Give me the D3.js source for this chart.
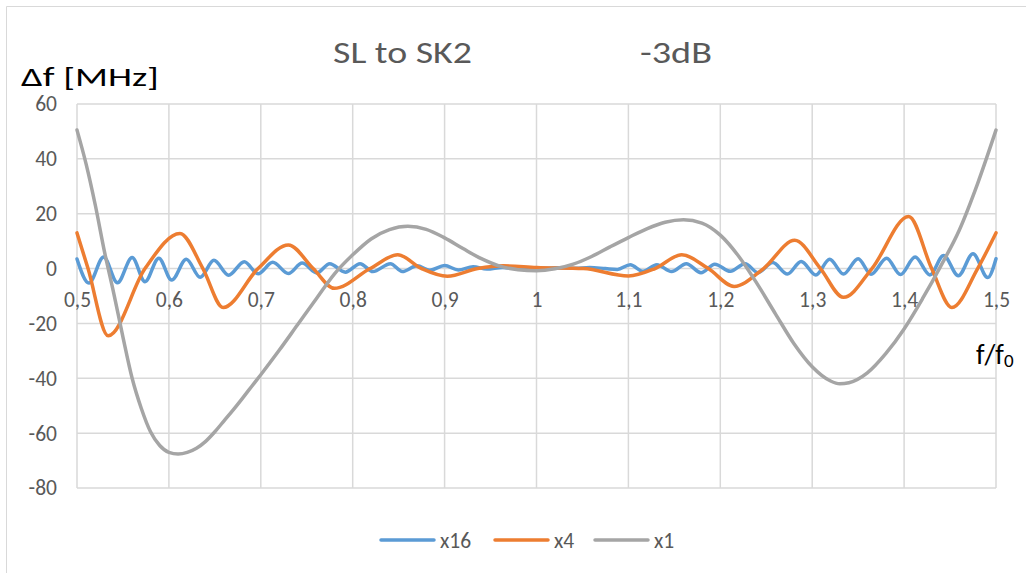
<!DOCTYPE html>
<html>
<head>
<meta charset="utf-8">
<script src="https://cdn.jsdelivr.net/npm/d3@7"></script>
<style>
  html, body { margin: 0; padding: 0; background: #fff; }
  svg { display: block; }
  text { font-family: Carlito, Lato, "Open Sans", sans-serif; }
</style>
</head>
<body>
<svg id="chart" width="1026" height="573"></svg>
<script>
// ---------------- data ----------------
const titleLeft = "SL to SK2";
const titleRight = "-3dB";
const yAxisTitle = "Δf [MHz]";
const seriesNames = ["x16", "x4", "x1"];
const seriesColors = ["#5b9bd5", "#ed7d31", "#a5a5a5"];
const xTickValues = [0.5, 0.6, 0.7, 0.8, 0.9, 1.0, 1.1, 1.2, 1.3, 1.4, 1.5];
const xTickLabels = ["0,5", "0,6", "0,7", "0,8", "0,9", "1", "1,1", "1,2", "1,3", "1,4", "1,5"];
const yTickValues = [-80, -60, -40, -20, 0, 20, 40, 60];

// x16 : [f/f0, Δf]
const x16 = [
  [0.500, 3.5], [0.513, -5.3], [0.529, 4.2], [0.544, -5.2], [0.560, 4.0], [0.574, -4.8],
  [0.589, 3.8], [0.603, -4.2], [0.619, 3.4], [0.634, -3.2], [0.649, 3.0], [0.665, -2.4],
  [0.682, 2.5], [0.697, -1.9], [0.713, 2.3], [0.730, -1.8], [0.745, 2.0], [0.761, -1.6],
  [0.775, 1.8], [0.792, -1.3], [0.808, 1.8], [0.822, -1.1], [0.841, 1.8], [0.854, -1.1],
  [0.870, 1.0], [0.884, -0.6], [0.900, 1.1], [0.915, -0.5], [0.931, 0.7], [0.946, -0.2],
  [0.963, 0.4], [0.978, 0.1], [0.993, 0.3], [1.009, 0.1], [1.026, 0.3], [1.042, 0.1],
  [1.058, 0.4], [1.075, 0.0], [1.088, -0.3], [1.102, 1.4], [1.116, -1.0], [1.131, 1.4],
  [1.147, -1.1], [1.163, 1.8], [1.179, -1.5], [1.194, 1.6], [1.211, -1.0], [1.227, 1.8],
  [1.241, -1.5], [1.257, 2.2], [1.273, -2.0], [1.288, 2.6], [1.304, -2.3], [1.319, 3.4],
  [1.334, -2.0], [1.350, 3.6], [1.364, -2.1], [1.381, 3.8], [1.396, -2.2], [1.412, 4.2],
  [1.428, -2.3], [1.443, 4.8], [1.459, -2.6], [1.475, 5.4], [1.491, -3.3], [1.500, 3.6]
];

// x4 : [f/f0, Δf]
const x4 = [
  [0.500, 13.0], [0.512, 0.0], [0.534, -24.5], [0.574, 0.0], [0.612, 12.8], [0.637, 0.0],
  [0.659, -14.2], [0.697, 0.0], [0.730, 8.6], [0.757, 0.0], [0.780, -7.2], [0.819, 0.0],
  [0.849, 5.0], [0.875, 0.0], [0.903, -2.8], [0.936, 0.0], [0.964, 1.0], [1.000, 0.4],
  [1.051, 0.0], [1.100, -2.7], [1.129, 0.0], [1.158, 5.0], [1.187, 0.0], [1.215, -6.5],
  [1.247, 0.0], [1.281, 10.3], [1.309, 0.0], [1.334, -10.5], [1.365, 0.0], [1.405, 19.0],
  [1.430, 0.0], [1.452, -14.2], [1.480, 0.0], [1.500, 13.0]
];

// x1 : [f/f0, Δf]
const x1 = [
  [0.50, 50.5], [0.51, 38], [0.52, 23], [0.53, 6], [0.54, -9], [0.55, -25], [0.56, -40],
  [0.57, -51], [0.58, -59.5], [0.59, -64.5], [0.60, -67], [0.61, -67.6], [0.62, -67],
  [0.63, -65.5], [0.64, -63], [0.65, -59.5], [0.66, -55.5], [0.67, -51.5], [0.68, -47.3],
  [0.69, -43], [0.70, -38.7], [0.72, -29.8], [0.74, -20.5], [0.76, -11.2], [0.78, -2],
  [0.80, 5], [0.82, 10.8], [0.84, 14.2], [0.86, 15.4], [0.88, 14.3], [0.90, 11.2],
  [0.92, 7.3], [0.94, 3.6], [0.96, 0.9], [0.98, -0.4], [1.00, -0.8], [1.02, -0.1],
  [1.04, 1.6], [1.06, 4.4], [1.08, 7.9], [1.10, 11.3], [1.12, 14.5], [1.14, 16.9],
  [1.16, 17.8], [1.18, 16.6], [1.20, 12.2], [1.22, 4.5], [1.24, -5.5], [1.26, -16.5],
  [1.28, -27.3], [1.30, -35.8], [1.32, -41], [1.33, -42], [1.34, -41.6], [1.36, -38],
  [1.38, -31], [1.40, -22], [1.42, -11], [1.44, 1], [1.46, 14], [1.48, 31], [1.50, 50.5]
];
const seriesData = [x16, x4, x1];

// ---------------- chart ----------------
const svg = d3.select("#chart");
const W = 1026, H = 573;
const plot = { left: 77, right: 996, top: 104, bottom: 488 };

const x = d3.scaleLinear().domain([0.5, 1.5]).range([plot.left, plot.right]);
const y = d3.scaleLinear().domain([-80, 60]).range([plot.bottom, plot.top]);

// widen a text horizontally (glyphs, not spacing) to a target width
function fitWidth(sel, targetW) {
  const n = sel.node();
  const L = n.getComputedTextLength();
  const x0 = +sel.attr("x");
  if (L > 0) sel.attr("transform", `translate(${x0},0) scale(${targetW / L},1) translate(${-x0},0)`);
}

// chart border
svg.append("path")
  .attr("d", `M6.5,${H} V6.5 H${W}`)
  .attr("fill", "none").attr("stroke", "#d9d9d9").attr("stroke-width", 1);

// grid
const grid = svg.append("g");
grid.selectAll("line.h").data(yTickValues).join("line")
  .attr("x1", plot.left).attr("x2", plot.right)
  .attr("y1", d => y(d)).attr("y2", d => y(d))
  .attr("stroke", "#d9d9d9").attr("stroke-width", 1.5);
grid.selectAll("line.v").data(xTickValues).join("line")
  .attr("x1", d => x(d)).attr("x2", d => x(d))
  .attr("y1", plot.top).attr("y2", plot.bottom)
  .attr("stroke", "#d9d9d9").attr("stroke-width", 1.5);

// y axis labels
const yAxis = d3.axisLeft(y).tickValues(yTickValues).tickSize(0).tickPadding(20)
  .tickFormat(d => String(d));
const gy = svg.append("g").attr("transform", `translate(${plot.left},0)`).call(yAxis);
gy.select(".domain").remove();
gy.selectAll("text").attr("font-size", 21.5).attr("fill", "#595959")
  .style("font-family", "Carlito, Lato, sans-serif");

// x axis labels (placed under the 0 line)
const xAxis = d3.axisBottom(x).tickValues(xTickValues).tickSize(0).tickPadding(23)
  .tickFormat((d, i) => xTickLabels[i]);
const gx = svg.append("g").attr("transform", `translate(0,${y(0)})`).call(xAxis);
gx.select(".domain").remove();
gx.selectAll("text").attr("font-size", 21.5).attr("fill", "#595959")
  .style("font-family", "Carlito, Lato, sans-serif");

// lines
const line = d3.line().x(d => x(d[0])).y(d => y(d[1])).curve(d3.curveMonotoneX);
svg.append("g").selectAll("path").data(seriesData).join("path")
  .attr("d", line)
  .attr("fill", "none")
  .attr("stroke", (d, i) => seriesColors[i])
  .attr("stroke-width", 3.5)
  .attr("stroke-linejoin", "round")
  .attr("stroke-linecap", "round");

// title
const t1 = svg.append("text").attr("x", 333).attr("y", 63).attr("font-size", 30).attr("fill", "#595959")
  .text(titleLeft);
fitWidth(t1, 139);
const t2 = svg.append("text").attr("x", 640).attr("y", 63).attr("font-size", 30).attr("fill", "#595959")
  .text(titleRight);
fitWidth(t2, 72);

// y axis title
const yt = svg.append("text").attr("x", 21).attr("y", 86).attr("font-size", 27).attr("fill", "#000")
  .text(yAxisTitle);
fitWidth(yt, 138);

// x axis title f/f0
const xt = svg.append("text").attr("x", 976).attr("y", 364).attr("font-size", 28).attr("fill", "#000");
xt.append("tspan").text("f/f");
xt.append("tspan").attr("font-size", 19).attr("dy", 3).text("0");

// legend
const legendItems = [
  { name: seriesNames[0], color: seriesColors[0], x0: 381 },
  { name: seriesNames[1], color: seriesColors[1], x0: 495 },
  { name: seriesNames[2], color: seriesColors[2], x0: 595 }
];
const lg = svg.append("g");
const li = lg.selectAll("g").data(legendItems).join("g");
li.append("line")
  .attr("x1", d => d.x0).attr("x2", d => d.x0 + 53)
  .attr("y1", 540).attr("y2", 540)
  .attr("stroke", d => d.color).attr("stroke-width", 3.5).attr("stroke-linecap", "round");
li.append("text")
  .attr("x", d => d.x0 + 59).attr("y", 548)
  .attr("font-size", 21.5).attr("fill", "#595959")
  .text(d => d.name);
</script>
</body>
</html>
